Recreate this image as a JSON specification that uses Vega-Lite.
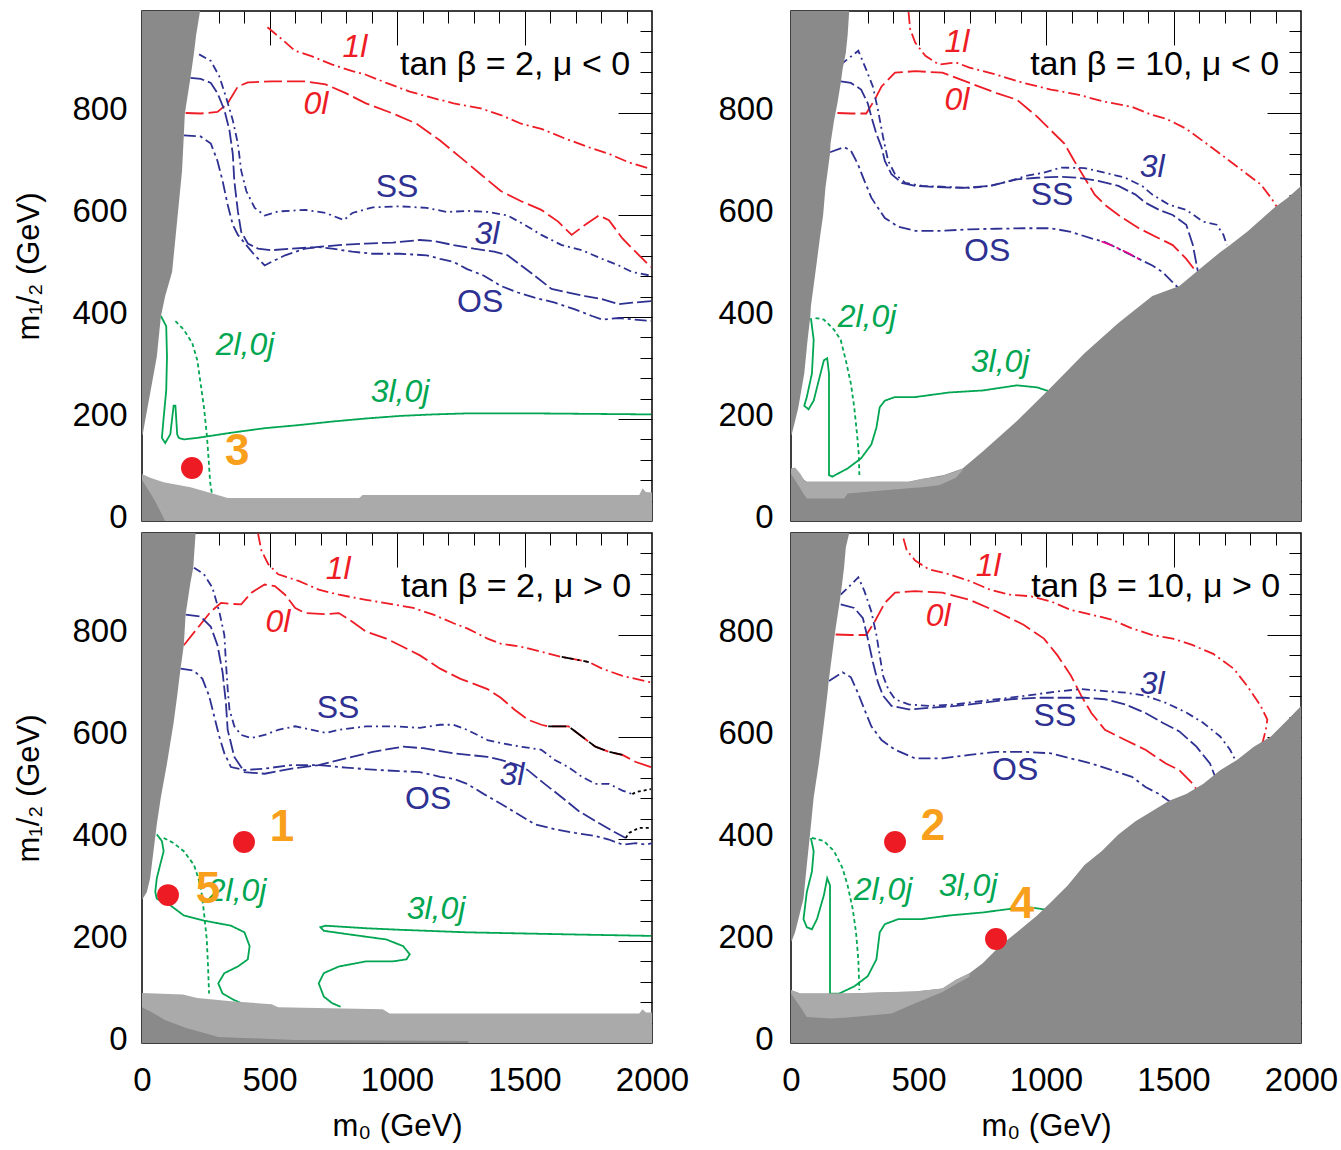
{
"$schema":"https://vega.github.io/schema/vega-lite/v6.json",
"background":"white",
"padding":{"left":13,"top":9,"right":5,"bottom":5},
"config":{"view":{"stroke":"#000","strokeWidth":1.5},"axis":{"labelFont":"Liberation Sans","labelFontSize":33,"labelColor":"#000","titleFont":"Liberation Sans","titleFontSize":31,"titleFontWeight":"normal","titleColor":"#000","grid":false,"domain":false,"labelFlush":false,"tickColor":"#000","tickWidth":1}},
"datasets":{
"lines":[
{"p":"TL","id":"TL1","s":"r1","o":1,"x":492,"y":968},{"p":"TL","id":"TL1","s":"r1","o":2,"x":548,"y":945},{"p":"TL","id":"TL1","s":"r1","o":3,"x":600,"y":922},{"p":"TL","id":"TL1","s":"r1","o":4,"x":667,"y":911},{"p":"TL","id":"TL1","s":"r1","o":5,"x":746,"y":895},{"p":"TL","id":"TL1","s":"r1","o":6,"x":825,"y":882},{"p":"TL","id":"TL1","s":"r1","o":7,"x":878,"y":875},{"p":"TL","id":"TL1","s":"r1","o":8,"x":958,"y":859},{"p":"TL","id":"TL1","s":"r1","o":9,"x":1050,"y":842},{"p":"TL","id":"TL1","s":"r1","o":10,"x":1143,"y":829},{"p":"TL","id":"TL1","s":"r1","o":11,"x":1222,"y":819},{"p":"TL","id":"TL1","s":"r1","o":12,"x":1328,"y":809},{"p":"TL","id":"TL1","s":"r1","o":13,"x":1407,"y":796},{"p":"TL","id":"TL1","s":"r1","o":14,"x":1487,"y":779},{"p":"TL","id":"TL1","s":"r1","o":15,"x":1566,"y":769},{"p":"TL","id":"TL1","s":"r1","o":16,"x":1659,"y":750},{"p":"TL","id":"TL1","s":"r1","o":17,"x":1751,"y":733},{"p":"TL","id":"TL1","s":"r1","o":18,"x":1831,"y":720},{"p":"TL","id":"TL1","s":"r1","o":19,"x":1910,"y":703},{"p":"TL","id":"TL1","s":"r1","o":20,"x":1996,"y":690},
{"p":"TL","id":"TL2","s":"r0","o":1,"x":171,"y":800},{"p":"TL","id":"TL2","s":"r0","o":2,"x":230,"y":799},{"p":"TL","id":"TL2","s":"r0","o":3,"x":296,"y":802},{"p":"TL","id":"TL2","s":"r0","o":4,"x":336,"y":819},{"p":"TL","id":"TL2","s":"r0","o":5,"x":376,"y":852},{"p":"TL","id":"TL2","s":"r0","o":6,"x":415,"y":860},{"p":"TL","id":"TL2","s":"r0","o":7,"x":508,"y":862},{"p":"TL","id":"TL2","s":"r0","o":8,"x":640,"y":862},{"p":"TL","id":"TL2","s":"r0","o":9,"x":720,"y":856},{"p":"TL","id":"TL2","s":"r0","o":10,"x":799,"y":839},{"p":"TL","id":"TL2","s":"r0","o":11,"x":878,"y":819},{"p":"TL","id":"TL2","s":"r0","o":12,"x":984,"y":799},{"p":"TL","id":"TL2","s":"r0","o":13,"x":1077,"y":779},{"p":"TL","id":"TL2","s":"r0","o":14,"x":1169,"y":746},{"p":"TL","id":"TL2","s":"r0","o":15,"x":1249,"y":713},{"p":"TL","id":"TL2","s":"r0","o":16,"x":1328,"y":680},{"p":"TL","id":"TL2","s":"r0","o":17,"x":1407,"y":647},{"p":"TL","id":"TL2","s":"r0","o":18,"x":1487,"y":627},{"p":"TL","id":"TL2","s":"r0","o":19,"x":1566,"y":610},{"p":"TL","id":"TL2","s":"r0","o":20,"x":1632,"y":587},{"p":"TL","id":"TL2","s":"r0","o":21,"x":1685,"y":561},{"p":"TL","id":"TL2","s":"r0","o":22,"x":1738,"y":581},{"p":"TL","id":"TL2","s":"r0","o":23,"x":1791,"y":599},{"p":"TL","id":"TL2","s":"r0","o":24,"x":1831,"y":590},{"p":"TL","id":"TL2","s":"r0","o":25,"x":1884,"y":554},{"p":"TL","id":"TL2","s":"r0","o":26,"x":1937,"y":527},{"p":"TL","id":"TL2","s":"r0","o":27,"x":1996,"y":498},
{"p":"TL","id":"TL3","s":"bA","o":1,"x":224,"y":915},{"p":"TL","id":"TL3","s":"bA","o":2,"x":270,"y":902},{"p":"TL","id":"TL3","s":"bA","o":3,"x":303,"y":872},{"p":"TL","id":"TL3","s":"bA","o":4,"x":329,"y":832},{"p":"TL","id":"TL3","s":"bA","o":5,"x":356,"y":786},{"p":"TL","id":"TL3","s":"bA","o":6,"x":376,"y":740},{"p":"TL","id":"TL3","s":"bA","o":7,"x":389,"y":687},{"p":"TL","id":"TL3","s":"bA","o":8,"x":409,"y":647},{"p":"TL","id":"TL3","s":"bA","o":9,"x":442,"y":614},{"p":"TL","id":"TL3","s":"bA","o":10,"x":481,"y":599},{"p":"TL","id":"TL3","s":"bA","o":11,"x":534,"y":607},{"p":"TL","id":"TL3","s":"bA","o":12,"x":640,"y":610},{"p":"TL","id":"TL3","s":"bA","o":13,"x":720,"y":604},{"p":"TL","id":"TL3","s":"bA","o":14,"x":792,"y":590},{"p":"TL","id":"TL3","s":"bA","o":15,"x":825,"y":604},{"p":"TL","id":"TL3","s":"bA","o":16,"x":905,"y":615},{"p":"TL","id":"TL3","s":"bA","o":17,"x":1011,"y":617},{"p":"TL","id":"TL3","s":"bA","o":18,"x":1116,"y":614},{"p":"TL","id":"TL3","s":"bA","o":19,"x":1196,"y":606},{"p":"TL","id":"TL3","s":"bA","o":20,"x":1275,"y":608},{"p":"TL","id":"TL3","s":"bA","o":21,"x":1355,"y":606},{"p":"TL","id":"TL3","s":"bA","o":22,"x":1434,"y":599},{"p":"TL","id":"TL3","s":"bA","o":23,"x":1500,"y":581},{"p":"TL","id":"TL3","s":"bA","o":24,"x":1566,"y":561},{"p":"TL","id":"TL3","s":"bA","o":25,"x":1646,"y":541},{"p":"TL","id":"TL3","s":"bA","o":26,"x":1725,"y":531},{"p":"TL","id":"TL3","s":"bA","o":27,"x":1804,"y":514},{"p":"TL","id":"TL3","s":"bA","o":28,"x":1870,"y":501},{"p":"TL","id":"TL3","s":"bA","o":29,"x":1923,"y":488},{"p":"TL","id":"TL3","s":"bA","o":30,"x":1996,"y":481},
{"p":"TL","id":"TL4","s":"bB","o":1,"x":190,"y":869},{"p":"TL","id":"TL4","s":"bB","o":2,"x":230,"y":867},{"p":"TL","id":"TL4","s":"bB","o":3,"x":270,"y":859},{"p":"TL","id":"TL4","s":"bB","o":4,"x":296,"y":839},{"p":"TL","id":"TL4","s":"bB","o":5,"x":323,"y":806},{"p":"TL","id":"TL4","s":"bB","o":6,"x":343,"y":766},{"p":"TL","id":"TL4","s":"bB","o":7,"x":356,"y":720},{"p":"TL","id":"TL4","s":"bB","o":8,"x":362,"y":667},{"p":"TL","id":"TL4","s":"bB","o":9,"x":376,"y":607},{"p":"TL","id":"TL4","s":"bB","o":10,"x":389,"y":567},{"p":"TL","id":"TL4","s":"bB","o":11,"x":415,"y":544},{"p":"TL","id":"TL4","s":"bB","o":12,"x":455,"y":534},{"p":"TL","id":"TL4","s":"bB","o":13,"x":508,"y":531},{"p":"TL","id":"TL4","s":"bB","o":14,"x":587,"y":534},{"p":"TL","id":"TL4","s":"bB","o":15,"x":680,"y":537},{"p":"TL","id":"TL4","s":"bB","o":16,"x":772,"y":541},{"p":"TL","id":"TL4","s":"bB","o":17,"x":878,"y":544},{"p":"TL","id":"TL4","s":"bB","o":18,"x":984,"y":546},{"p":"TL","id":"TL4","s":"bB","o":19,"x":1090,"y":551},{"p":"TL","id":"TL4","s":"bB","o":20,"x":1143,"y":549},{"p":"TL","id":"TL4","s":"bB","o":21,"x":1222,"y":541},{"p":"TL","id":"TL4","s":"bB","o":22,"x":1302,"y":534},{"p":"TL","id":"TL4","s":"bB","o":23,"x":1381,"y":528},{"p":"TL","id":"TL4","s":"bB","o":24,"x":1434,"y":521},{"p":"TL","id":"TL4","s":"bB","o":25,"x":1487,"y":501},{"p":"TL","id":"TL4","s":"bB","o":26,"x":1540,"y":481},{"p":"TL","id":"TL4","s":"bB","o":27,"x":1606,"y":455},{"p":"TL","id":"TL4","s":"bB","o":28,"x":1672,"y":448},{"p":"TL","id":"TL4","s":"bB","o":29,"x":1738,"y":441},{"p":"TL","id":"TL4","s":"bB","o":30,"x":1804,"y":435},{"p":"TL","id":"TL4","s":"bB","o":31,"x":1870,"y":425},{"p":"TL","id":"TL4","s":"bB","o":32,"x":1923,"y":428},{"p":"TL","id":"TL4","s":"bB","o":33,"x":1996,"y":431},
{"p":"TL","id":"TL5","s":"bC","o":1,"x":164,"y":756},{"p":"TL","id":"TL5","s":"bC","o":2,"x":230,"y":754},{"p":"TL","id":"TL5","s":"bC","o":3,"x":270,"y":740},{"p":"TL","id":"TL5","s":"bC","o":4,"x":296,"y":706},{"p":"TL","id":"TL5","s":"bC","o":5,"x":316,"y":667},{"p":"TL","id":"TL5","s":"bC","o":6,"x":336,"y":620},{"p":"TL","id":"TL5","s":"bC","o":7,"x":356,"y":581},{"p":"TL","id":"TL5","s":"bC","o":8,"x":376,"y":561},{"p":"TL","id":"TL5","s":"bC","o":9,"x":409,"y":541},{"p":"TL","id":"TL5","s":"bC","o":10,"x":442,"y":521},{"p":"TL","id":"TL5","s":"bC","o":11,"x":481,"y":501},{"p":"TL","id":"TL5","s":"bC","o":12,"x":508,"y":508},{"p":"TL","id":"TL5","s":"bC","o":13,"x":561,"y":521},{"p":"TL","id":"TL5","s":"bC","o":14,"x":640,"y":534},{"p":"TL","id":"TL5","s":"bC","o":15,"x":693,"y":537},{"p":"TL","id":"TL5","s":"bC","o":16,"x":746,"y":534},{"p":"TL","id":"TL5","s":"bC","o":17,"x":825,"y":528},{"p":"TL","id":"TL5","s":"bC","o":18,"x":905,"y":524},{"p":"TL","id":"TL5","s":"bC","o":19,"x":1011,"y":524},{"p":"TL","id":"TL5","s":"bC","o":20,"x":1116,"y":521},{"p":"TL","id":"TL5","s":"bC","o":21,"x":1169,"y":514},{"p":"TL","id":"TL5","s":"bC","o":22,"x":1222,"y":508},{"p":"TL","id":"TL5","s":"bC","o":23,"x":1275,"y":494},{"p":"TL","id":"TL5","s":"bC","o":24,"x":1341,"y":481},{"p":"TL","id":"TL5","s":"bC","o":25,"x":1407,"y":461},{"p":"TL","id":"TL5","s":"bC","o":26,"x":1474,"y":448},{"p":"TL","id":"TL5","s":"bC","o":27,"x":1540,"y":438},{"p":"TL","id":"TL5","s":"bC","o":28,"x":1619,"y":428},{"p":"TL","id":"TL5","s":"bC","o":29,"x":1698,"y":415},{"p":"TL","id":"TL5","s":"bC","o":30,"x":1765,"y":402},{"p":"TL","id":"TL5","s":"bC","o":31,"x":1804,"y":395},{"p":"TL","id":"TL5","s":"bC","o":32,"x":1870,"y":398},{"p":"TL","id":"TL5","s":"bC","o":33,"x":1996,"y":392},
{"p":"TL","id":"TL6","s":"gs","o":1,"x":74,"y":402},{"p":"TL","id":"TL6","s":"gs","o":2,"x":95,"y":382},{"p":"TL","id":"TL6","s":"gs","o":3,"x":98,"y":322},{"p":"TL","id":"TL6","s":"gs","o":4,"x":95,"y":256},{"p":"TL","id":"TL6","s":"gs","o":5,"x":85,"y":203},{"p":"TL","id":"TL6","s":"gs","o":6,"x":78,"y":163},{"p":"TL","id":"TL6","s":"gs","o":7,"x":91,"y":153},{"p":"TL","id":"TL6","s":"gs","o":8,"x":111,"y":170},{"p":"TL","id":"TL6","s":"gs","o":9,"x":124,"y":226},{"p":"TL","id":"TL6","s":"gs","o":10,"x":131,"y":226},{"p":"TL","id":"TL6","s":"gs","o":11,"x":138,"y":170},{"p":"TL","id":"TL6","s":"gs","o":12,"x":144,"y":163},{"p":"TL","id":"TL6","s":"gs","o":13,"x":164,"y":160},{"p":"TL","id":"TL6","s":"gs","o":14,"x":217,"y":163},{"p":"TL","id":"TL6","s":"gs","o":15,"x":349,"y":173},{"p":"TL","id":"TL6","s":"gs","o":16,"x":481,"y":182},{"p":"TL","id":"TL6","s":"gs","o":17,"x":614,"y":188},{"p":"TL","id":"TL6","s":"gs","o":18,"x":746,"y":195},{"p":"TL","id":"TL6","s":"gs","o":19,"x":878,"y":201},{"p":"TL","id":"TL6","s":"gs","o":20,"x":1011,"y":206},{"p":"TL","id":"TL6","s":"gs","o":21,"x":1143,"y":209},{"p":"TL","id":"TL6","s":"gs","o":22,"x":1275,"y":211},{"p":"TL","id":"TL6","s":"gs","o":23,"x":1540,"y":211},{"p":"TL","id":"TL6","s":"gs","o":24,"x":1996,"y":209},
{"p":"TL","id":"TL7","s":"gd","o":1,"x":131,"y":392},{"p":"TL","id":"TL7","s":"gd","o":2,"x":164,"y":375},{"p":"TL","id":"TL7","s":"gd","o":3,"x":197,"y":349},{"p":"TL","id":"TL7","s":"gd","o":4,"x":217,"y":315},{"p":"TL","id":"TL7","s":"gd","o":5,"x":230,"y":269},{"p":"TL","id":"TL7","s":"gd","o":6,"x":243,"y":223},{"p":"TL","id":"TL7","s":"gd","o":7,"x":254,"y":170},{"p":"TL","id":"TL7","s":"gd","o":8,"x":261,"y":123},{"p":"TL","id":"TL7","s":"gd","o":9,"x":267,"y":77},{"p":"TL","id":"TL7","s":"gd","o":10,"x":274,"y":54},
{"p":"TR","id":"TR1","s":"r1","o":1,"x":461,"y":998},{"p":"TR","id":"TR1","s":"r1","o":2,"x":467,"y":965},{"p":"TR","id":"TR1","s":"r1","o":3,"x":487,"y":938},{"p":"TR","id":"TR1","s":"r1","o":4,"x":527,"y":912},{"p":"TR","id":"TR1","s":"r1","o":5,"x":580,"y":895},{"p":"TR","id":"TR1","s":"r1","o":6,"x":647,"y":899},{"p":"TR","id":"TR1","s":"r1","o":7,"x":700,"y":889},{"p":"TR","id":"TR1","s":"r1","o":8,"x":806,"y":875},{"p":"TR","id":"TR1","s":"r1","o":9,"x":912,"y":859},{"p":"TR","id":"TR1","s":"r1","o":10,"x":1019,"y":846},{"p":"TR","id":"TR1","s":"r1","o":11,"x":1125,"y":836},{"p":"TR","id":"TR1","s":"r1","o":12,"x":1231,"y":822},{"p":"TR","id":"TR1","s":"r1","o":13,"x":1337,"y":812},{"p":"TR","id":"TR1","s":"r1","o":14,"x":1417,"y":796},{"p":"TR","id":"TR1","s":"r1","o":15,"x":1470,"y":789},{"p":"TR","id":"TR1","s":"r1","o":16,"x":1550,"y":769},{"p":"TR","id":"TR1","s":"r1","o":17,"x":1629,"y":740},{"p":"TR","id":"TR1","s":"r1","o":18,"x":1683,"y":720},{"p":"TR","id":"TR1","s":"r1","o":19,"x":1736,"y":700},{"p":"TR","id":"TR1","s":"r1","o":20,"x":1789,"y":680},{"p":"TR","id":"TR1","s":"r1","o":21,"x":1842,"y":660},{"p":"TR","id":"TR1","s":"r1","o":22,"x":1882,"y":634},{"p":"TR","id":"TR1","s":"r1","o":23,"x":1908,"y":614},
{"p":"TR","id":"TR2","s":"r0","o":1,"x":182,"y":800},{"p":"TR","id":"TR2","s":"r0","o":2,"x":235,"y":799},{"p":"TR","id":"TR2","s":"r0","o":3,"x":295,"y":799},{"p":"TR","id":"TR2","s":"r0","o":4,"x":328,"y":826},{"p":"TR","id":"TR2","s":"r0","o":5,"x":355,"y":852},{"p":"TR","id":"TR2","s":"r0","o":6,"x":408,"y":879},{"p":"TR","id":"TR2","s":"r0","o":7,"x":487,"y":882},{"p":"TR","id":"TR2","s":"r0","o":8,"x":594,"y":879},{"p":"TR","id":"TR2","s":"r0","o":9,"x":700,"y":859},{"p":"TR","id":"TR2","s":"r0","o":10,"x":806,"y":839},{"p":"TR","id":"TR2","s":"r0","o":11,"x":886,"y":826},{"p":"TR","id":"TR2","s":"r0","o":12,"x":965,"y":793},{"p":"TR","id":"TR2","s":"r0","o":13,"x":1019,"y":766},{"p":"TR","id":"TR2","s":"r0","o":14,"x":1072,"y":740},{"p":"TR","id":"TR2","s":"r0","o":15,"x":1111,"y":706},{"p":"TR","id":"TR2","s":"r0","o":16,"x":1151,"y":673},{"p":"TR","id":"TR2","s":"r0","o":17,"x":1191,"y":640},{"p":"TR","id":"TR2","s":"r0","o":18,"x":1231,"y":620},{"p":"TR","id":"TR2","s":"r0","o":19,"x":1284,"y":600},{"p":"TR","id":"TR2","s":"r0","o":20,"x":1364,"y":574},{"p":"TR","id":"TR2","s":"r0","o":21,"x":1444,"y":554},{"p":"TR","id":"TR2","s":"r0","o":22,"x":1497,"y":541},{"p":"TR","id":"TR2","s":"r0","o":23,"x":1550,"y":514},{"p":"TR","id":"TR2","s":"r0","o":24,"x":1590,"y":488},
{"p":"TR","id":"TR3","s":"bA","o":1,"x":195,"y":895},{"p":"TR","id":"TR3","s":"bA","o":2,"x":264,"y":922},{"p":"TR","id":"TR3","s":"bA","o":3,"x":295,"y":885},{"p":"TR","id":"TR3","s":"bA","o":4,"x":321,"y":852},{"p":"TR","id":"TR3","s":"bA","o":5,"x":341,"y":806},{"p":"TR","id":"TR3","s":"bA","o":6,"x":361,"y":753},{"p":"TR","id":"TR3","s":"bA","o":7,"x":381,"y":706},{"p":"TR","id":"TR3","s":"bA","o":8,"x":408,"y":680},{"p":"TR","id":"TR3","s":"bA","o":9,"x":448,"y":663},{"p":"TR","id":"TR3","s":"bA","o":10,"x":514,"y":657},{"p":"TR","id":"TR3","s":"bA","o":11,"x":620,"y":655},{"p":"TR","id":"TR3","s":"bA","o":12,"x":700,"y":653},{"p":"TR","id":"TR3","s":"bA","o":13,"x":780,"y":657},{"p":"TR","id":"TR3","s":"bA","o":14,"x":859,"y":667},{"p":"TR","id":"TR3","s":"bA","o":15,"x":926,"y":677},{"p":"TR","id":"TR3","s":"bA","o":16,"x":992,"y":683},{"p":"TR","id":"TR3","s":"bA","o":17,"x":1058,"y":693},{"p":"TR","id":"TR3","s":"bA","o":18,"x":1151,"y":692},{"p":"TR","id":"TR3","s":"bA","o":19,"x":1231,"y":683},{"p":"TR","id":"TR3","s":"bA","o":20,"x":1311,"y":673},{"p":"TR","id":"TR3","s":"bA","o":21,"x":1377,"y":657},{"p":"TR","id":"TR3","s":"bA","o":22,"x":1417,"y":640},{"p":"TR","id":"TR3","s":"bA","o":23,"x":1483,"y":620},{"p":"TR","id":"TR3","s":"bA","o":24,"x":1550,"y":610},{"p":"TR","id":"TR3","s":"bA","o":25,"x":1616,"y":587},{"p":"TR","id":"TR3","s":"bA","o":26,"x":1669,"y":581},{"p":"TR","id":"TR3","s":"bA","o":27,"x":1696,"y":561},{"p":"TR","id":"TR3","s":"bA","o":28,"x":1709,"y":541},
{"p":"TR","id":"TR4","s":"bB","o":1,"x":195,"y":862},{"p":"TR","id":"TR4","s":"bB","o":2,"x":235,"y":859},{"p":"TR","id":"TR4","s":"bB","o":3,"x":275,"y":846},{"p":"TR","id":"TR4","s":"bB","o":4,"x":301,"y":819},{"p":"TR","id":"TR4","s":"bB","o":5,"x":315,"y":793},{"p":"TR","id":"TR4","s":"bB","o":6,"x":335,"y":759},{"p":"TR","id":"TR4","s":"bB","o":7,"x":355,"y":733},{"p":"TR","id":"TR4","s":"bB","o":8,"x":368,"y":706},{"p":"TR","id":"TR4","s":"bB","o":9,"x":394,"y":680},{"p":"TR","id":"TR4","s":"bB","o":10,"x":434,"y":663},{"p":"TR","id":"TR4","s":"bB","o":11,"x":487,"y":657},{"p":"TR","id":"TR4","s":"bB","o":12,"x":567,"y":655},{"p":"TR","id":"TR4","s":"bB","o":13,"x":673,"y":653},{"p":"TR","id":"TR4","s":"bB","o":14,"x":780,"y":657},{"p":"TR","id":"TR4","s":"bB","o":15,"x":886,"y":670},{"p":"TR","id":"TR4","s":"bB","o":16,"x":965,"y":673},{"p":"TR","id":"TR4","s":"bB","o":17,"x":1058,"y":675},{"p":"TR","id":"TR4","s":"bB","o":18,"x":1125,"y":673},{"p":"TR","id":"TR4","s":"bB","o":19,"x":1204,"y":667},{"p":"TR","id":"TR4","s":"bB","o":20,"x":1284,"y":657},{"p":"TR","id":"TR4","s":"bB","o":21,"x":1351,"y":640},{"p":"TR","id":"TR4","s":"bB","o":22,"x":1390,"y":624},{"p":"TR","id":"TR4","s":"bB","o":23,"x":1444,"y":610},{"p":"TR","id":"TR4","s":"bB","o":24,"x":1497,"y":600},{"p":"TR","id":"TR4","s":"bB","o":25,"x":1550,"y":581},{"p":"TR","id":"TR4","s":"bB","o":26,"x":1576,"y":541},{"p":"TR","id":"TR4","s":"bB","o":27,"x":1596,"y":488},
{"p":"TR","id":"TR5","s":"bC","o":1,"x":153,"y":723},{"p":"TR","id":"TR5","s":"bC","o":2,"x":208,"y":733},{"p":"TR","id":"TR5","s":"bC","o":3,"x":235,"y":726},{"p":"TR","id":"TR5","s":"bC","o":4,"x":262,"y":700},{"p":"TR","id":"TR5","s":"bC","o":5,"x":288,"y":667},{"p":"TR","id":"TR5","s":"bC","o":6,"x":315,"y":634},{"p":"TR","id":"TR5","s":"bC","o":7,"x":341,"y":614},{"p":"TR","id":"TR5","s":"bC","o":8,"x":368,"y":594},{"p":"TR","id":"TR5","s":"bC","o":9,"x":421,"y":577},{"p":"TR","id":"TR5","s":"bC","o":10,"x":487,"y":569},{"p":"TR","id":"TR5","s":"bC","o":11,"x":594,"y":569},{"p":"TR","id":"TR5","s":"bC","o":12,"x":700,"y":572},{"p":"TR","id":"TR5","s":"bC","o":13,"x":806,"y":573},{"p":"TR","id":"TR5","s":"bC","o":14,"x":912,"y":574},{"p":"TR","id":"TR5","s":"bC","o":15,"x":1019,"y":574},{"p":"TR","id":"TR5","s":"bC","o":16,"x":1098,"y":567},{"p":"TR","id":"TR5","s":"bC","o":17,"x":1178,"y":554},{"p":"TR","id":"TR5","s":"bC","o":18,"x":1231,"y":547},{"p":"TR","id":"TR5","s":"bC","o":19,"x":1364,"y":514},{"p":"TR","id":"TR5","s":"bC","o":20,"x":1417,"y":501},{"p":"TR","id":"TR5","s":"bC","o":21,"x":1457,"y":488},{"p":"TR","id":"TR5","s":"bC","o":22,"x":1497,"y":468},{"p":"TR","id":"TR5","s":"bC","o":23,"x":1523,"y":455},
{"p":"TR","id":"TR6","s":"m","o":1,"x":1218,"y":548},{"p":"TR","id":"TR6","s":"m","o":2,"x":1260,"y":540},{"p":"TR","id":"TR6","s":"m","o":3,"x":1320,"y":526},{"p":"TR","id":"TR6","s":"m","o":4,"x":1364,"y":514},{"p":"TR","id":"TR6","s":"m","o":5,"x":1377,"y":511},
{"p":"TR","id":"TR7","s":"gd","o":1,"x":96,"y":398},{"p":"TR","id":"TR7","s":"gd","o":2,"x":129,"y":395},{"p":"TR","id":"TR7","s":"gd","o":3,"x":169,"y":375},{"p":"TR","id":"TR7","s":"gd","o":4,"x":195,"y":355},{"p":"TR","id":"TR7","s":"gd","o":5,"x":215,"y":315},{"p":"TR","id":"TR7","s":"gd","o":6,"x":235,"y":269},{"p":"TR","id":"TR7","s":"gd","o":7,"x":248,"y":223},{"p":"TR","id":"TR7","s":"gd","o":8,"x":259,"y":170},{"p":"TR","id":"TR7","s":"gd","o":9,"x":266,"y":130},{"p":"TR","id":"TR7","s":"gd","o":10,"x":268,"y":90},
{"p":"TR","id":"TR8","s":"gs","o":1,"x":78,"y":398},{"p":"TR","id":"TR8","s":"gs","o":2,"x":89,"y":355},{"p":"TR","id":"TR8","s":"gs","o":3,"x":82,"y":289},{"p":"TR","id":"TR8","s":"gs","o":4,"x":62,"y":243},{"p":"TR","id":"TR8","s":"gs","o":5,"x":52,"y":226},{"p":"TR","id":"TR8","s":"gs","o":6,"x":69,"y":219},{"p":"TR","id":"TR8","s":"gs","o":7,"x":89,"y":236},{"p":"TR","id":"TR8","s":"gs","o":8,"x":109,"y":276},{"p":"TR","id":"TR8","s":"gs","o":9,"x":129,"y":315},{"p":"TR","id":"TR8","s":"gs","o":10,"x":142,"y":319},{"p":"TR","id":"TR8","s":"gs","o":11,"x":149,"y":289},{"p":"TR","id":"TR8","s":"gs","o":12,"x":149,"y":90},{"p":"TR","id":"TR8","s":"gs","o":13,"x":162,"y":87},{"p":"TR","id":"TR8","s":"gs","o":14,"x":222,"y":103},{"p":"TR","id":"TR8","s":"gs","o":15,"x":275,"y":123},{"p":"TR","id":"TR8","s":"gs","o":16,"x":315,"y":150},{"p":"TR","id":"TR8","s":"gs","o":17,"x":335,"y":183},{"p":"TR","id":"TR8","s":"gs","o":18,"x":348,"y":223},{"p":"TR","id":"TR8","s":"gs","o":19,"x":368,"y":236},{"p":"TR","id":"TR8","s":"gs","o":20,"x":408,"y":243},{"p":"TR","id":"TR8","s":"gs","o":21,"x":487,"y":243},{"p":"TR","id":"TR8","s":"gs","o":22,"x":620,"y":252},{"p":"TR","id":"TR8","s":"gs","o":23,"x":753,"y":256},{"p":"TR","id":"TR8","s":"gs","o":24,"x":886,"y":266},{"p":"TR","id":"TR8","s":"gs","o":25,"x":965,"y":262},{"p":"TR","id":"TR8","s":"gs","o":26,"x":1045,"y":249},
{"p":"BL","id":"BL1","s":"r1","o":1,"x":455,"y":999},{"p":"BL","id":"BL1","s":"r1","o":2,"x":468,"y":966},{"p":"BL","id":"BL1","s":"r1","o":3,"x":495,"y":939},{"p":"BL","id":"BL1","s":"r1","o":4,"x":534,"y":919},{"p":"BL","id":"BL1","s":"r1","o":5,"x":614,"y":906},{"p":"BL","id":"BL1","s":"r1","o":6,"x":693,"y":889},{"p":"BL","id":"BL1","s":"r1","o":7,"x":772,"y":879},{"p":"BL","id":"BL1","s":"r1","o":8,"x":878,"y":869},{"p":"BL","id":"BL1","s":"r1","o":9,"x":984,"y":860},{"p":"BL","id":"BL1","s":"r1","o":10,"x":1064,"y":853},{"p":"BL","id":"BL1","s":"r1","o":11,"x":1143,"y":840},{"p":"BL","id":"BL1","s":"r1","o":12,"x":1222,"y":823},{"p":"BL","id":"BL1","s":"r1","o":13,"x":1275,"y":813},{"p":"BL","id":"BL1","s":"r1","o":14,"x":1355,"y":793},{"p":"BL","id":"BL1","s":"r1","o":15,"x":1407,"y":783},{"p":"BL","id":"BL1","s":"r1","o":16,"x":1487,"y":777},{"p":"BL","id":"BL1","s":"r1","o":17,"x":1566,"y":767},{"p":"BL","id":"BL1","s":"r1","o":18,"x":1646,"y":757},{"p":"BL","id":"BL1","s":"r1","o":19,"x":1752,"y":747},{"p":"BL","id":"BL1","s":"r1","o":20,"x":1804,"y":734},{"p":"BL","id":"BL1","s":"r1","o":21,"x":1884,"y":720},{"p":"BL","id":"BL1","s":"r1","o":22,"x":1996,"y":707},
{"p":"BL","id":"BL2","s":"r0","o":1,"x":164,"y":780},{"p":"BL","id":"BL2","s":"r0","o":2,"x":217,"y":813},{"p":"BL","id":"BL2","s":"r0","o":3,"x":270,"y":846},{"p":"BL","id":"BL2","s":"r0","o":4,"x":310,"y":863},{"p":"BL","id":"BL2","s":"r0","o":5,"x":349,"y":861},{"p":"BL","id":"BL2","s":"r0","o":6,"x":389,"y":860},{"p":"BL","id":"BL2","s":"r0","o":7,"x":429,"y":883},{"p":"BL","id":"BL2","s":"r0","o":8,"x":481,"y":899},{"p":"BL","id":"BL2","s":"r0","o":9,"x":521,"y":896},{"p":"BL","id":"BL2","s":"r0","o":10,"x":561,"y":879},{"p":"BL","id":"BL2","s":"r0","o":11,"x":601,"y":853},{"p":"BL","id":"BL2","s":"r0","o":12,"x":640,"y":843},{"p":"BL","id":"BL2","s":"r0","o":13,"x":720,"y":841},{"p":"BL","id":"BL2","s":"r0","o":14,"x":772,"y":843},{"p":"BL","id":"BL2","s":"r0","o":15,"x":825,"y":826},{"p":"BL","id":"BL2","s":"r0","o":16,"x":878,"y":807},{"p":"BL","id":"BL2","s":"r0","o":17,"x":958,"y":793},{"p":"BL","id":"BL2","s":"r0","o":18,"x":1011,"y":780},{"p":"BL","id":"BL2","s":"r0","o":19,"x":1090,"y":760},{"p":"BL","id":"BL2","s":"r0","o":20,"x":1169,"y":734},{"p":"BL","id":"BL2","s":"r0","o":21,"x":1249,"y":714},{"p":"BL","id":"BL2","s":"r0","o":22,"x":1355,"y":694},{"p":"BL","id":"BL2","s":"r0","o":23,"x":1407,"y":677},{"p":"BL","id":"BL2","s":"r0","o":24,"x":1460,"y":654},{"p":"BL","id":"BL2","s":"r0","o":25,"x":1513,"y":634},{"p":"BL","id":"BL2","s":"r0","o":26,"x":1566,"y":624},{"p":"BL","id":"BL2","s":"r0","o":27,"x":1593,"y":621},{"p":"BL","id":"BL2","s":"r0","o":28,"x":1672,"y":621},{"p":"BL","id":"BL2","s":"r0","o":29,"x":1725,"y":601},{"p":"BL","id":"BL2","s":"r0","o":30,"x":1778,"y":581},{"p":"BL","id":"BL2","s":"r0","o":31,"x":1831,"y":571},{"p":"BL","id":"BL2","s":"r0","o":32,"x":1884,"y":565},{"p":"BL","id":"BL2","s":"r0","o":33,"x":1937,"y":551},{"p":"BL","id":"BL2","s":"r0","o":34,"x":1996,"y":541},
{"p":"BL","id":"BL3","s":"bA","o":1,"x":204,"y":932},{"p":"BL","id":"BL3","s":"bA","o":2,"x":243,"y":919},{"p":"BL","id":"BL3","s":"bA","o":3,"x":276,"y":893},{"p":"BL","id":"BL3","s":"bA","o":4,"x":303,"y":846},{"p":"BL","id":"BL3","s":"bA","o":5,"x":323,"y":800},{"p":"BL","id":"BL3","s":"bA","o":6,"x":329,"y":747},{"p":"BL","id":"BL3","s":"bA","o":7,"x":336,"y":694},{"p":"BL","id":"BL3","s":"bA","o":8,"x":343,"y":654},{"p":"BL","id":"BL3","s":"bA","o":9,"x":362,"y":621},{"p":"BL","id":"BL3","s":"bA","o":10,"x":389,"y":604},{"p":"BL","id":"BL3","s":"bA","o":11,"x":429,"y":598},{"p":"BL","id":"BL3","s":"bA","o":12,"x":481,"y":604},{"p":"BL","id":"BL3","s":"bA","o":13,"x":534,"y":614},{"p":"BL","id":"BL3","s":"bA","o":14,"x":601,"y":621},{"p":"BL","id":"BL3","s":"bA","o":15,"x":667,"y":614},{"p":"BL","id":"BL3","s":"bA","o":16,"x":720,"y":608},{"p":"BL","id":"BL3","s":"bA","o":17,"x":772,"y":614},{"p":"BL","id":"BL3","s":"bA","o":18,"x":878,"y":621},{"p":"BL","id":"BL3","s":"bA","o":19,"x":984,"y":621},{"p":"BL","id":"BL3","s":"bA","o":20,"x":1090,"y":618},{"p":"BL","id":"BL3","s":"bA","o":21,"x":1169,"y":624},{"p":"BL","id":"BL3","s":"bA","o":22,"x":1222,"y":624},{"p":"BL","id":"BL3","s":"bA","o":23,"x":1275,"y":614},{"p":"BL","id":"BL3","s":"bA","o":24,"x":1355,"y":594},{"p":"BL","id":"BL3","s":"bA","o":25,"x":1407,"y":588},{"p":"BL","id":"BL3","s":"bA","o":26,"x":1487,"y":581},{"p":"BL","id":"BL3","s":"bA","o":27,"x":1566,"y":575},{"p":"BL","id":"BL3","s":"bA","o":28,"x":1619,"y":555},{"p":"BL","id":"BL3","s":"bA","o":29,"x":1672,"y":541},{"p":"BL","id":"BL3","s":"bA","o":30,"x":1725,"y":522},{"p":"BL","id":"BL3","s":"bA","o":31,"x":1778,"y":508},{"p":"BL","id":"BL3","s":"bA","o":32,"x":1831,"y":508},{"p":"BL","id":"BL3","s":"bA","o":33,"x":1884,"y":495},{"p":"BL","id":"BL3","s":"bA","o":34,"x":1923,"y":488},
{"p":"BL","id":"BL4","s":"bB","o":1,"x":171,"y":840},{"p":"BL","id":"BL4","s":"bB","o":2,"x":230,"y":836},{"p":"BL","id":"BL4","s":"bB","o":3,"x":270,"y":816},{"p":"BL","id":"BL4","s":"bB","o":4,"x":296,"y":780},{"p":"BL","id":"BL4","s":"bB","o":5,"x":316,"y":727},{"p":"BL","id":"BL4","s":"bB","o":6,"x":329,"y":667},{"p":"BL","id":"BL4","s":"bB","o":7,"x":336,"y":614},{"p":"BL","id":"BL4","s":"bB","o":8,"x":362,"y":561},{"p":"BL","id":"BL4","s":"bB","o":9,"x":402,"y":531},{"p":"BL","id":"BL4","s":"bB","o":10,"x":481,"y":528},{"p":"BL","id":"BL4","s":"bB","o":11,"x":587,"y":538},{"p":"BL","id":"BL4","s":"bB","o":12,"x":693,"y":545},{"p":"BL","id":"BL4","s":"bB","o":13,"x":799,"y":558},{"p":"BL","id":"BL4","s":"bB","o":14,"x":905,"y":571},{"p":"BL","id":"BL4","s":"bB","o":15,"x":1024,"y":581},{"p":"BL","id":"BL4","s":"bB","o":16,"x":1103,"y":578},{"p":"BL","id":"BL4","s":"bB","o":17,"x":1222,"y":568},{"p":"BL","id":"BL4","s":"bB","o":18,"x":1355,"y":561},{"p":"BL","id":"BL4","s":"bB","o":19,"x":1407,"y":555},{"p":"BL","id":"BL4","s":"bB","o":20,"x":1474,"y":545},{"p":"BL","id":"BL4","s":"bB","o":21,"x":1513,"y":535},{"p":"BL","id":"BL4","s":"bB","o":22,"x":1579,"y":508},{"p":"BL","id":"BL4","s":"bB","o":23,"x":1646,"y":482},{"p":"BL","id":"BL4","s":"bB","o":24,"x":1712,"y":455},{"p":"BL","id":"BL4","s":"bB","o":25,"x":1778,"y":435},{"p":"BL","id":"BL4","s":"bB","o":26,"x":1844,"y":416},{"p":"BL","id":"BL4","s":"bB","o":27,"x":1897,"y":402},
{"p":"BL","id":"BL5","s":"bC","o":1,"x":151,"y":734},{"p":"BL","id":"BL5","s":"bC","o":2,"x":204,"y":730},{"p":"BL","id":"BL5","s":"bC","o":3,"x":237,"y":714},{"p":"BL","id":"BL5","s":"bC","o":4,"x":263,"y":681},{"p":"BL","id":"BL5","s":"bC","o":5,"x":283,"y":641},{"p":"BL","id":"BL5","s":"bC","o":6,"x":303,"y":601},{"p":"BL","id":"BL5","s":"bC","o":7,"x":323,"y":568},{"p":"BL","id":"BL5","s":"bC","o":8,"x":349,"y":541},{"p":"BL","id":"BL5","s":"bC","o":9,"x":402,"y":535},{"p":"BL","id":"BL5","s":"bC","o":10,"x":481,"y":538},{"p":"BL","id":"BL5","s":"bC","o":11,"x":587,"y":545},{"p":"BL","id":"BL5","s":"bC","o":12,"x":693,"y":545},{"p":"BL","id":"BL5","s":"bC","o":13,"x":799,"y":540},{"p":"BL","id":"BL5","s":"bC","o":14,"x":905,"y":536},{"p":"BL","id":"BL5","s":"bC","o":15,"x":1011,"y":533},{"p":"BL","id":"BL5","s":"bC","o":16,"x":1090,"y":531},{"p":"BL","id":"BL5","s":"bC","o":17,"x":1169,"y":522},{"p":"BL","id":"BL5","s":"bC","o":18,"x":1222,"y":518},{"p":"BL","id":"BL5","s":"bC","o":19,"x":1275,"y":508},{"p":"BL","id":"BL5","s":"bC","o":20,"x":1341,"y":488},{"p":"BL","id":"BL5","s":"bC","o":21,"x":1407,"y":469},{"p":"BL","id":"BL5","s":"bC","o":22,"x":1474,"y":449},{"p":"BL","id":"BL5","s":"bC","o":23,"x":1540,"y":429},{"p":"BL","id":"BL5","s":"bC","o":24,"x":1619,"y":419},{"p":"BL","id":"BL5","s":"bC","o":25,"x":1698,"y":412},{"p":"BL","id":"BL5","s":"bC","o":26,"x":1778,"y":406},{"p":"BL","id":"BL5","s":"bC","o":27,"x":1831,"y":399},{"p":"BL","id":"BL5","s":"bC","o":28,"x":1884,"y":389},{"p":"BL","id":"BL5","s":"bC","o":29,"x":1937,"y":392},{"p":"BL","id":"BL5","s":"bC","o":30,"x":1976,"y":389},{"p":"BL","id":"BL5","s":"bC","o":31,"x":2000,"y":392},
{"p":"BL","id":"BL6","s":"gs","o":1,"x":58,"y":409},{"p":"BL","id":"BL6","s":"gs","o":2,"x":78,"y":396},{"p":"BL","id":"BL6","s":"gs","o":3,"x":85,"y":376},{"p":"BL","id":"BL6","s":"gs","o":4,"x":71,"y":349},{"p":"BL","id":"BL6","s":"gs","o":5,"x":58,"y":323},{"p":"BL","id":"BL6","s":"gs","o":6,"x":52,"y":296},{"p":"BL","id":"BL6","s":"gs","o":7,"x":58,"y":283},{"p":"BL","id":"BL6","s":"gs","o":8,"x":111,"y":270},{"p":"BL","id":"BL6","s":"gs","o":9,"x":164,"y":250},{"p":"BL","id":"BL6","s":"gs","o":10,"x":243,"y":240},{"p":"BL","id":"BL6","s":"gs","o":11,"x":349,"y":230},{"p":"BL","id":"BL6","s":"gs","o":12,"x":402,"y":217},{"p":"BL","id":"BL6","s":"gs","o":13,"x":422,"y":190},{"p":"BL","id":"BL6","s":"gs","o":14,"x":415,"y":164},{"p":"BL","id":"BL6","s":"gs","o":15,"x":376,"y":150},{"p":"BL","id":"BL6","s":"gs","o":16,"x":323,"y":137},{"p":"BL","id":"BL6","s":"gs","o":17,"x":299,"y":117},{"p":"BL","id":"BL6","s":"gs","o":18,"x":316,"y":97},{"p":"BL","id":"BL6","s":"gs","o":19,"x":362,"y":84},{"p":"BL","id":"BL6","s":"gs","o":20,"x":409,"y":74},
{"p":"BL","id":"BL7","s":"gd","o":1,"x":85,"y":402},{"p":"BL","id":"BL7","s":"gd","o":2,"x":124,"y":392},{"p":"BL","id":"BL7","s":"gd","o":3,"x":164,"y":376},{"p":"BL","id":"BL7","s":"gd","o":4,"x":204,"y":349},{"p":"BL","id":"BL7","s":"gd","o":5,"x":230,"y":309},{"p":"BL","id":"BL7","s":"gd","o":6,"x":243,"y":256},{"p":"BL","id":"BL7","s":"gd","o":7,"x":254,"y":203},{"p":"BL","id":"BL7","s":"gd","o":8,"x":259,"y":150},{"p":"BL","id":"BL7","s":"gd","o":9,"x":263,"y":97},
{"p":"BL","id":"BL8","s":"gs","o":1,"x":1996,"y":210},{"p":"BL","id":"BL8","s":"gs","o":2,"x":1672,"y":213},{"p":"BL","id":"BL8","s":"gs","o":3,"x":1275,"y":217},{"p":"BL","id":"BL8","s":"gs","o":4,"x":1011,"y":222},{"p":"BL","id":"BL8","s":"gs","o":5,"x":878,"y":225},{"p":"BL","id":"BL8","s":"gs","o":6,"x":720,"y":230},{"p":"BL","id":"BL8","s":"gs","o":7,"x":700,"y":227},{"p":"BL","id":"BL8","s":"gs","o":8,"x":713,"y":220},{"p":"BL","id":"BL8","s":"gs","o":9,"x":812,"y":213},{"p":"BL","id":"BL8","s":"gs","o":10,"x":958,"y":203},{"p":"BL","id":"BL8","s":"gs","o":11,"x":1024,"y":190},{"p":"BL","id":"BL8","s":"gs","o":12,"x":1050,"y":174},{"p":"BL","id":"BL8","s":"gs","o":13,"x":1037,"y":164},{"p":"BL","id":"BL8","s":"gs","o":14,"x":984,"y":160},{"p":"BL","id":"BL8","s":"gs","o":15,"x":878,"y":160},{"p":"BL","id":"BL8","s":"gs","o":16,"x":772,"y":150},{"p":"BL","id":"BL8","s":"gs","o":17,"x":713,"y":137},{"p":"BL","id":"BL8","s":"gs","o":18,"x":693,"y":117},{"p":"BL","id":"BL8","s":"gs","o":19,"x":713,"y":91},{"p":"BL","id":"BL8","s":"gs","o":20,"x":746,"y":78},{"p":"BL","id":"BL8","s":"gs","o":21,"x":779,"y":71},
{"p":"BL","id":"BLk1","s":"k1","o":1,"x":1646,"y":757},{"p":"BL","id":"BLk1","s":"k1","o":2,"x":1700,"y":752},{"p":"BL","id":"BLk1","s":"k1","o":3,"x":1752,"y":747},
{"p":"BL","id":"BLk2","s":"k0","o":1,"x":1593,"y":621},{"p":"BL","id":"BLk2","s":"k0","o":2,"x":1672,"y":621},{"p":"BL","id":"BLk2","s":"k0","o":3,"x":1725,"y":601},{"p":"BL","id":"BLk2","s":"k0","o":4,"x":1778,"y":581},{"p":"BL","id":"BLk2","s":"k0","o":5,"x":1831,"y":571},{"p":"BL","id":"BLk2","s":"k0","o":6,"x":1884,"y":565},
{"p":"BL","id":"BLk3","s":"kd","o":1,"x":1923,"y":488},{"p":"BL","id":"BLk3","s":"kd","o":2,"x":1937,"y":492},{"p":"BL","id":"BLk3","s":"kd","o":3,"x":1996,"y":498},
{"p":"BL","id":"BLk4","s":"kd","o":1,"x":1897,"y":402},{"p":"BL","id":"BLk4","s":"kd","o":2,"x":1910,"y":412},{"p":"BL","id":"BLk4","s":"kd","o":3,"x":1950,"y":422},{"p":"BL","id":"BLk4","s":"kd","o":4,"x":1996,"y":422},
{"p":"BR","id":"BR1","s":"r1","o":1,"x":441,"y":989},{"p":"BR","id":"BR1","s":"r1","o":2,"x":454,"y":966},{"p":"BR","id":"BR1","s":"r1","o":3,"x":487,"y":946},{"p":"BR","id":"BR1","s":"r1","o":4,"x":540,"y":929},{"p":"BR","id":"BR1","s":"r1","o":5,"x":620,"y":919},{"p":"BR","id":"BR1","s":"r1","o":6,"x":700,"y":906},{"p":"BR","id":"BR1","s":"r1","o":7,"x":780,"y":889},{"p":"BR","id":"BR1","s":"r1","o":8,"x":859,"y":879},{"p":"BR","id":"BR1","s":"r1","o":9,"x":939,"y":876},{"p":"BR","id":"BR1","s":"r1","o":10,"x":1019,"y":866},{"p":"BR","id":"BR1","s":"r1","o":11,"x":1098,"y":849},{"p":"BR","id":"BR1","s":"r1","o":12,"x":1178,"y":840},{"p":"BR","id":"BR1","s":"r1","o":13,"x":1258,"y":830},{"p":"BR","id":"BR1","s":"r1","o":14,"x":1337,"y":813},{"p":"BR","id":"BR1","s":"r1","o":15,"x":1417,"y":800},{"p":"BR","id":"BR1","s":"r1","o":16,"x":1497,"y":793},{"p":"BR","id":"BR1","s":"r1","o":17,"x":1576,"y":780},{"p":"BR","id":"BR1","s":"r1","o":18,"x":1656,"y":763},{"p":"BR","id":"BR1","s":"r1","o":19,"x":1736,"y":734},{"p":"BR","id":"BR1","s":"r1","o":20,"x":1789,"y":700},{"p":"BR","id":"BR1","s":"r1","o":21,"x":1842,"y":661},{"p":"BR","id":"BR1","s":"r1","o":22,"x":1868,"y":634},{"p":"BR","id":"BR1","s":"r1","o":23,"x":1862,"y":614},{"p":"BR","id":"BR1","s":"r1","o":24,"x":1842,"y":575},
{"p":"BR","id":"BR2","s":"r0","o":1,"x":175,"y":801},{"p":"BR","id":"BR2","s":"r0","o":2,"x":235,"y":800},{"p":"BR","id":"BR2","s":"r0","o":3,"x":295,"y":800},{"p":"BR","id":"BR2","s":"r0","o":4,"x":328,"y":826},{"p":"BR","id":"BR2","s":"r0","o":5,"x":368,"y":863},{"p":"BR","id":"BR2","s":"r0","o":6,"x":408,"y":883},{"p":"BR","id":"BR2","s":"r0","o":7,"x":487,"y":886},{"p":"BR","id":"BR2","s":"r0","o":8,"x":594,"y":883},{"p":"BR","id":"BR2","s":"r0","o":9,"x":700,"y":869},{"p":"BR","id":"BR2","s":"r0","o":10,"x":806,"y":846},{"p":"BR","id":"BR2","s":"r0","o":11,"x":912,"y":820},{"p":"BR","id":"BR2","s":"r0","o":12,"x":992,"y":793},{"p":"BR","id":"BR2","s":"r0","o":13,"x":1045,"y":760},{"p":"BR","id":"BR2","s":"r0","o":14,"x":1098,"y":720},{"p":"BR","id":"BR2","s":"r0","o":15,"x":1138,"y":681},{"p":"BR","id":"BR2","s":"r0","o":16,"x":1178,"y":647},{"p":"BR","id":"BR2","s":"r0","o":17,"x":1231,"y":614},{"p":"BR","id":"BR2","s":"r0","o":18,"x":1311,"y":594},{"p":"BR","id":"BR2","s":"r0","o":19,"x":1390,"y":575},{"p":"BR","id":"BR2","s":"r0","o":20,"x":1470,"y":548},{"p":"BR","id":"BR2","s":"r0","o":21,"x":1523,"y":535},{"p":"BR","id":"BR2","s":"r0","o":22,"x":1576,"y":508},{"p":"BR","id":"BR2","s":"r0","o":23,"x":1603,"y":488},
{"p":"BR","id":"BR3","s":"bA","o":1,"x":195,"y":879},{"p":"BR","id":"BR3","s":"bA","o":2,"x":264,"y":913},{"p":"BR","id":"BR3","s":"bA","o":3,"x":288,"y":886},{"p":"BR","id":"BR3","s":"bA","o":4,"x":315,"y":846},{"p":"BR","id":"BR3","s":"bA","o":5,"x":335,"y":800},{"p":"BR","id":"BR3","s":"bA","o":6,"x":348,"y":760},{"p":"BR","id":"BR3","s":"bA","o":7,"x":361,"y":720},{"p":"BR","id":"BR3","s":"bA","o":8,"x":381,"y":694},{"p":"BR","id":"BR3","s":"bA","o":9,"x":408,"y":674},{"p":"BR","id":"BR3","s":"bA","o":10,"x":461,"y":664},{"p":"BR","id":"BR3","s":"bA","o":11,"x":540,"y":661},{"p":"BR","id":"BR3","s":"bA","o":12,"x":647,"y":664},{"p":"BR","id":"BR3","s":"bA","o":13,"x":753,"y":671},{"p":"BR","id":"BR3","s":"bA","o":14,"x":859,"y":677},{"p":"BR","id":"BR3","s":"bA","o":15,"x":965,"y":684},{"p":"BR","id":"BR3","s":"bA","o":16,"x":1058,"y":690},{"p":"BR","id":"BR3","s":"bA","o":17,"x":1138,"y":694},{"p":"BR","id":"BR3","s":"bA","o":18,"x":1231,"y":690},{"p":"BR","id":"BR3","s":"bA","o":19,"x":1311,"y":687},{"p":"BR","id":"BR3","s":"bA","o":20,"x":1390,"y":681},{"p":"BR","id":"BR3","s":"bA","o":21,"x":1470,"y":667},{"p":"BR","id":"BR3","s":"bA","o":22,"x":1550,"y":648},{"p":"BR","id":"BR3","s":"bA","o":23,"x":1616,"y":628},{"p":"BR","id":"BR3","s":"bA","o":24,"x":1683,"y":601},{"p":"BR","id":"BR3","s":"bA","o":25,"x":1722,"y":575},{"p":"BR","id":"BR3","s":"bA","o":26,"x":1742,"y":555},
{"p":"BR","id":"BR4","s":"bB","o":1,"x":195,"y":860},{"p":"BR","id":"BR4","s":"bB","o":2,"x":248,"y":853},{"p":"BR","id":"BR4","s":"bB","o":3,"x":282,"y":833},{"p":"BR","id":"BR4","s":"bB","o":4,"x":301,"y":793},{"p":"BR","id":"BR4","s":"bB","o":5,"x":321,"y":747},{"p":"BR","id":"BR4","s":"bB","o":6,"x":341,"y":707},{"p":"BR","id":"BR4","s":"bB","o":7,"x":361,"y":681},{"p":"BR","id":"BR4","s":"bB","o":8,"x":394,"y":661},{"p":"BR","id":"BR4","s":"bB","o":9,"x":461,"y":654},{"p":"BR","id":"BR4","s":"bB","o":10,"x":540,"y":657},{"p":"BR","id":"BR4","s":"bB","o":11,"x":647,"y":661},{"p":"BR","id":"BR4","s":"bB","o":12,"x":753,"y":667},{"p":"BR","id":"BR4","s":"bB","o":13,"x":859,"y":674},{"p":"BR","id":"BR4","s":"bB","o":14,"x":965,"y":677},{"p":"BR","id":"BR4","s":"bB","o":15,"x":1072,"y":677},{"p":"BR","id":"BR4","s":"bB","o":16,"x":1151,"y":677},{"p":"BR","id":"BR4","s":"bB","o":17,"x":1231,"y":674},{"p":"BR","id":"BR4","s":"bB","o":18,"x":1311,"y":664},{"p":"BR","id":"BR4","s":"bB","o":19,"x":1390,"y":647},{"p":"BR","id":"BR4","s":"bB","o":20,"x":1457,"y":628},{"p":"BR","id":"BR4","s":"bB","o":21,"x":1523,"y":611},{"p":"BR","id":"BR4","s":"bB","o":22,"x":1590,"y":581},{"p":"BR","id":"BR4","s":"bB","o":23,"x":1643,"y":548},{"p":"BR","id":"BR4","s":"bB","o":24,"x":1669,"y":515},
{"p":"BR","id":"BR5","s":"bC","o":1,"x":149,"y":710},{"p":"BR","id":"BR5","s":"bC","o":2,"x":202,"y":727},{"p":"BR","id":"BR5","s":"bC","o":3,"x":235,"y":717},{"p":"BR","id":"BR5","s":"bC","o":4,"x":262,"y":687},{"p":"BR","id":"BR5","s":"bC","o":5,"x":288,"y":654},{"p":"BR","id":"BR5","s":"bC","o":6,"x":315,"y":621},{"p":"BR","id":"BR5","s":"bC","o":7,"x":355,"y":594},{"p":"BR","id":"BR5","s":"bC","o":8,"x":408,"y":575},{"p":"BR","id":"BR5","s":"bC","o":9,"x":487,"y":558},{"p":"BR","id":"BR5","s":"bC","o":10,"x":594,"y":558},{"p":"BR","id":"BR5","s":"bC","o":11,"x":700,"y":565},{"p":"BR","id":"BR5","s":"bC","o":12,"x":806,"y":571},{"p":"BR","id":"BR5","s":"bC","o":13,"x":912,"y":571},{"p":"BR","id":"BR5","s":"bC","o":14,"x":1019,"y":568},{"p":"BR","id":"BR5","s":"bC","o":15,"x":1098,"y":558},{"p":"BR","id":"BR5","s":"bC","o":16,"x":1178,"y":548},{"p":"BR","id":"BR5","s":"bC","o":17,"x":1258,"y":535},{"p":"BR","id":"BR5","s":"bC","o":18,"x":1337,"y":522},{"p":"BR","id":"BR5","s":"bC","o":19,"x":1390,"y":502},{"p":"BR","id":"BR5","s":"bC","o":20,"x":1444,"y":488},{"p":"BR","id":"BR5","s":"bC","o":21,"x":1497,"y":469},{"p":"BR","id":"BR5","s":"bC","o":22,"x":1523,"y":455},
{"p":"BR","id":"BR6","s":"gd","o":1,"x":82,"y":402},{"p":"BR","id":"BR6","s":"gd","o":2,"x":129,"y":396},{"p":"BR","id":"BR6","s":"gd","o":3,"x":169,"y":376},{"p":"BR","id":"BR6","s":"gd","o":4,"x":202,"y":343},{"p":"BR","id":"BR6","s":"gd","o":5,"x":222,"y":309},{"p":"BR","id":"BR6","s":"gd","o":6,"x":242,"y":263},{"p":"BR","id":"BR6","s":"gd","o":7,"x":255,"y":217},{"p":"BR","id":"BR6","s":"gd","o":8,"x":264,"y":164},{"p":"BR","id":"BR6","s":"gd","o":9,"x":268,"y":104},
{"p":"BR","id":"BR7","s":"gs","o":1,"x":78,"y":402},{"p":"BR","id":"BR7","s":"gs","o":2,"x":89,"y":376},{"p":"BR","id":"BR7","s":"gs","o":3,"x":82,"y":336},{"p":"BR","id":"BR7","s":"gs","o":4,"x":62,"y":296},{"p":"BR","id":"BR7","s":"gs","o":5,"x":49,"y":243},{"p":"BR","id":"BR7","s":"gs","o":6,"x":62,"y":227},{"p":"BR","id":"BR7","s":"gs","o":7,"x":82,"y":223},{"p":"BR","id":"BR7","s":"gs","o":8,"x":102,"y":243},{"p":"BR","id":"BR7","s":"gs","o":9,"x":129,"y":290},{"p":"BR","id":"BR7","s":"gs","o":10,"x":142,"y":323},{"p":"BR","id":"BR7","s":"gs","o":11,"x":153,"y":309},{"p":"BR","id":"BR7","s":"gs","o":12,"x":153,"y":97},{"p":"BR","id":"BR7","s":"gs","o":13,"x":189,"y":97},{"p":"BR","id":"BR7","s":"gs","o":14,"x":248,"y":111},{"p":"BR","id":"BR7","s":"gs","o":15,"x":301,"y":131},{"p":"BR","id":"BR7","s":"gs","o":16,"x":335,"y":164},{"p":"BR","id":"BR7","s":"gs","o":17,"x":348,"y":217},{"p":"BR","id":"BR7","s":"gs","o":18,"x":368,"y":233},{"p":"BR","id":"BR7","s":"gs","o":19,"x":421,"y":243},{"p":"BR","id":"BR7","s":"gs","o":20,"x":514,"y":243},{"p":"BR","id":"BR7","s":"gs","o":21,"x":620,"y":250},{"p":"BR","id":"BR7","s":"gs","o":22,"x":753,"y":256},{"p":"BR","id":"BR7","s":"gs","o":23,"x":859,"y":263},{"p":"BR","id":"BR7","s":"gs","o":24,"x":939,"y":266},{"p":"BR","id":"BR7","s":"gs","o":25,"x":1019,"y":260}
],
"brick":[
{"p":"TR","x":0,"y":103},{"p":"TR","x":20,"y":100},{"p":"TR","x":40,"y":85},{"p":"TR","x":62,"y":77},{"p":"TR","x":461,"y":77},{"p":"TR","x":520,"y":83},{"p":"TR","x":600,"y":90},{"p":"TR","x":673,"y":103},{"p":"TR","x":753,"y":137},{"p":"TR","x":886,"y":196},{"p":"TR","x":1019,"y":262},{"p":"TR","x":1151,"y":329},{"p":"TR","x":1284,"y":388},{"p":"TR","x":1417,"y":441},{"p":"TR","x":1523,"y":461},{"p":"TR","x":1603,"y":494},{"p":"TR","x":1683,"y":527},{"p":"TR","x":1722,"y":541},{"p":"TR","x":1789,"y":567},{"p":"TR","x":1895,"y":614},{"p":"TR","x":1948,"y":634},{"p":"TR","x":2000,"y":657},
{"p":"BR","x":0,"y":104},{"p":"BR","x":36,"y":97},{"p":"BR","x":222,"y":97},{"p":"BR","x":487,"y":101},{"p":"BR","x":594,"y":107},{"p":"BR","x":647,"y":124},{"p":"BR","x":700,"y":137},{"p":"BR","x":753,"y":157},{"p":"BR","x":819,"y":190},{"p":"BR","x":886,"y":217},{"p":"BR","x":965,"y":250},{"p":"BR","x":1019,"y":276},{"p":"BR","x":1085,"y":309},{"p":"BR","x":1151,"y":349},{"p":"BR","x":1218,"y":376},{"p":"BR","x":1284,"y":409},{"p":"BR","x":1351,"y":435},{"p":"BR","x":1417,"y":455},{"p":"BR","x":1483,"y":475},{"p":"BR","x":1550,"y":488},{"p":"BR","x":1616,"y":508},{"p":"BR","x":1683,"y":535},{"p":"BR","x":1749,"y":555},{"p":"BR","x":1815,"y":581},{"p":"BR","x":1882,"y":601},{"p":"BR","x":1948,"y":634},{"p":"BR","x":2000,"y":661}
],
"hatch":[
{"p":"TL","x":0,"y":92,"y2":0},{"p":"TL","x":32,"y":85,"y2":0},{"p":"TL","x":85,"y":76,"y2":0},{"p":"TL","x":190,"y":66,"y2":0},{"p":"TL","x":270,"y":55,"y2":0},{"p":"TL","x":336,"y":45,"y2":0},{"p":"TL","x":852,"y":45,"y2":0},{"p":"TL","x":865,"y":51,"y2":0},{"p":"TL","x":1950,"y":51,"y2":0},{"p":"TL","x":1963,"y":64,"y2":0},{"p":"TL","x":1976,"y":57,"y2":0},{"p":"TL","x":2000,"y":56,"y2":0},
{"p":"TR","x":0,"y":103,"y2":92},{"p":"TR","x":16,"y":105,"y2":80},{"p":"TR","x":36,"y":93,"y2":64},{"p":"TR","x":56,"y":77,"y2":48},{"p":"TR","x":62,"y":77,"y2":44},{"p":"TR","x":208,"y":77,"y2":44},{"p":"TR","x":222,"y":77,"y2":54},{"p":"TR","x":461,"y":77,"y2":64},{"p":"TR","x":514,"y":83,"y2":66},{"p":"TR","x":581,"y":87,"y2":70},{"p":"TR","x":647,"y":97,"y2":85},{"p":"TR","x":673,"y":103,"y2":100},
{"p":"BL","x":0,"y":98,"y2":0},{"p":"BL","x":160,"y":95,"y2":0},{"p":"BL","x":217,"y":88,"y2":0},{"p":"BL","x":349,"y":82,"y2":0},{"p":"BL","x":508,"y":76,"y2":0},{"p":"BL","x":534,"y":70,"y2":0},{"p":"BL","x":944,"y":66,"y2":0},{"p":"BL","x":971,"y":58,"y2":0},{"p":"BL","x":1950,"y":58,"y2":0},{"p":"BL","x":1963,"y":66,"y2":0},{"p":"BL","x":1976,"y":60,"y2":0},{"p":"BL","x":2000,"y":60,"y2":0},
{"p":"BR","x":0,"y":104,"y2":97},{"p":"BR","x":36,"y":97,"y2":71},{"p":"BR","x":62,"y":97,"y2":51},{"p":"BR","x":155,"y":97,"y2":48},{"p":"BR","x":222,"y":97,"y2":50},{"p":"BR","x":395,"y":100,"y2":58},{"p":"BR","x":487,"y":101,"y2":78},{"p":"BR","x":594,"y":107,"y2":100},{"p":"BR","x":647,"y":124,"y2":115},{"p":"BR","x":700,"y":137,"y2":130}
],
"strips":[
{"p":"TL","y":0,"x":91},{"p":"TL","y":40,"x":50},{"p":"TL","y":77,"x":5},{"p":"TL","y":80,"x":0},{"p":"TL","y":168,"x":0},{"p":"TL","y":170,"x":3},{"p":"TL","y":196,"x":12},{"p":"TL","y":256,"x":34},{"p":"TL","y":322,"x":58},{"p":"TL","y":401,"x":74},{"p":"TL","y":441,"x":91},{"p":"TL","y":488,"x":118},{"p":"TL","y":554,"x":131},{"p":"TL","y":620,"x":144},{"p":"TL","y":687,"x":157},{"p":"TL","y":756,"x":164},{"p":"TL","y":799,"x":168},{"p":"TL","y":869,"x":190},{"p":"TL","y":918,"x":204},{"p":"TL","y":952,"x":212},{"p":"TL","y":998,"x":227},{"p":"TL","y":1000,"x":228},
{"p":"TR","y":0,"x":0},{"p":"TR","y":168,"x":0},{"p":"TR","y":170,"x":3},{"p":"TR","y":196,"x":16},{"p":"TR","y":223,"x":29},{"p":"TR","y":289,"x":52},{"p":"TR","y":355,"x":65},{"p":"TR","y":402,"x":76},{"p":"TR","y":421,"x":78},{"p":"TR","y":488,"x":96},{"p":"TR","y":554,"x":113},{"p":"TR","y":600,"x":126},{"p":"TR","y":653,"x":135},{"p":"TR","y":720,"x":153},{"p":"TR","y":740,"x":155},{"p":"TR","y":786,"x":169},{"p":"TR","y":819,"x":182},{"p":"TR","y":859,"x":195},{"p":"TR","y":885,"x":202},{"p":"TR","y":918,"x":215},{"p":"TR","y":952,"x":222},{"p":"TR","y":998,"x":228},{"p":"TR","y":1000,"x":228},
{"p":"BL","y":0,"x":1280},{"p":"BL","y":4,"x":1280},{"p":"BL","y":6,"x":600},{"p":"BL","y":12,"x":300},{"p":"BL","y":30,"x":170},{"p":"BL","y":45,"x":90},{"p":"BL","y":60,"x":40},{"p":"BL","y":70,"x":0},{"p":"BL","y":282,"x":0},{"p":"BL","y":283,"x":3},{"p":"BL","y":296,"x":19},{"p":"BL","y":323,"x":32},{"p":"BL","y":376,"x":45},{"p":"BL","y":429,"x":58},{"p":"BL","y":482,"x":74},{"p":"BL","y":548,"x":98},{"p":"BL","y":588,"x":111},{"p":"BL","y":628,"x":124},{"p":"BL","y":681,"x":138},{"p":"BL","y":734,"x":151},{"p":"BL","y":780,"x":164},{"p":"BL","y":840,"x":171},{"p":"BL","y":903,"x":190},{"p":"BL","y":932,"x":201},{"p":"BL","y":999,"x":210},{"p":"BL","y":1000,"x":210},
{"p":"BR","y":0,"x":0},{"p":"BR","y":199,"x":0},{"p":"BR","y":200,"x":3},{"p":"BR","y":217,"x":16},{"p":"BR","y":283,"x":49},{"p":"BR","y":349,"x":62},{"p":"BR","y":416,"x":76},{"p":"BR","y":482,"x":89},{"p":"BR","y":548,"x":109},{"p":"BR","y":614,"x":126},{"p":"BR","y":681,"x":142},{"p":"BR","y":714,"x":149},{"p":"BR","y":780,"x":166},{"p":"BR","y":813,"x":175},{"p":"BR","y":879,"x":195},{"p":"BR","y":932,"x":208},{"p":"BR","y":972,"x":215},{"p":"BR","y":999,"x":228},{"p":"BR","y":1000,"x":228}
],
"labels":[
{"p":"TL","t":"1l","c":"red","f":"i","x":835,"y":930},{"p":"TL","t":"0l","c":"red","f":"i","x":682,"y":817},{"p":"TL","t":"tan β = 2, μ < 0","c":"black","f":"t","x":1463,"y":895},{"p":"TL","t":"SS","c":"blue","f":"u","x":1000,"y":654},{"p":"TL","t":"3l","c":"blue","f":"i","x":1353,"y":563},{"p":"TL","t":"OS","c":"blue","f":"u","x":1326,"y":430},{"p":"TL","t":"2l,0j","c":"green","f":"i","x":404,"y":345},{"p":"TL","t":"3l,0j","c":"green","f":"i","x":1012,"y":253},{"p":"TL","t":"3","c":"orange","f":"n","x":373,"y":135},
{"p":"TR","t":"1l","c":"red","f":"i","x":651,"y":940},{"p":"TR","t":"0l","c":"red","f":"i","x":651,"y":826},{"p":"TR","t":"tan β = 10, μ < 0","c":"black","f":"t","x":1426,"y":895},{"p":"TR","t":"3l","c":"blue","f":"i","x":1416,"y":695},{"p":"TR","t":"SS","c":"blue","f":"u","x":1024,"y":640},{"p":"TR","t":"OS","c":"blue","f":"u","x":769,"y":530},{"p":"TR","t":"2l,0j","c":"green","f":"i","x":298,"y":400},{"p":"TR","t":"3l,0j","c":"green","f":"i","x":820,"y":312},
{"p":"BL","t":"1l","c":"red","f":"i","x":769,"y":930},{"p":"BL","t":"0l","c":"red","f":"i","x":533,"y":826},{"p":"BL","t":"tan β = 2, μ > 0","c":"black","f":"t","x":1467,"y":894},{"p":"BL","t":"SS","c":"blue","f":"u","x":769,"y":657},{"p":"BL","t":"3l","c":"blue","f":"i","x":1451,"y":526},{"p":"BL","t":"OS","c":"blue","f":"u","x":1122,"y":478},{"p":"BL","t":"2l,0j","c":"green","f":"i","x":373,"y":298},{"p":"BL","t":"3l,0j","c":"green","f":"i","x":1153,"y":263},{"p":"BL","t":"1","c":"orange","f":"n","x":549,"y":422},{"p":"BL","t":"5","c":"orange","f":"n","x":259,"y":300},
{"p":"BR","t":"1l","c":"red","f":"i","x":773,"y":935},{"p":"BR","t":"0l","c":"red","f":"i","x":577,"y":837},{"p":"BR","t":"tan β = 10, μ > 0","c":"black","f":"t","x":1430,"y":894},{"p":"BR","t":"3l","c":"blue","f":"i","x":1416,"y":704},{"p":"BR","t":"SS","c":"blue","f":"u","x":1035,"y":641},{"p":"BR","t":"OS","c":"blue","f":"u","x":879,"y":535},{"p":"BR","t":"2l,0j","c":"green","f":"i","x":361,"y":300},{"p":"BR","t":"3l,0j","c":"green","f":"i","x":694,"y":308},{"p":"BR","t":"2","c":"orange","f":"n","x":557,"y":424},{"p":"BR","t":"4","c":"orange","f":"n","x":906,"y":271}
],
"dots":[
{"p":"TL","x":196,"y":104},{"p":"BL","x":400,"y":394},{"p":"BL","x":102,"y":290},{"p":"BR","x":408,"y":394},{"p":"BR","x":804,"y":204}
]
},
"concat":[
{"width":510,"height":510,"layer":[
 {"encoding":{"x":{"field":"x","type":"quantitative","scale":{"domain":[0,2000],"nice":false,"zero":false},"axis":null},"y":{"field":"y","type":"quantitative","scale":{"domain":[0,1000],"nice":false,"zero":false},"axis":{"orient":"left","values":[0,200,400,600,800],"ticks":false,"labelPadding":15,"labelOffset":-4,"title":"m₁/₂  (GeV)","titlePadding":26}}},
  "layer":[
  {"data":{"name":"lines"},"transform":[{"filter":"datum.p=='TL'"}],"mark":{"type":"line","strokeWidth":1.8,"clip":true},"encoding":{"detail":{"field":"id"},"order":{"field":"o","type":"quantitative"},"stroke":{"field":"s","type":"nominal","legend":null,"scale":{"domain":["r1","r0","bA","bB","bC","gs","gd","k1","k0","kd","m"],"range":["#ee1c25","#ee1c25","#2e3192","#2e3192","#2e3192","#00a651","#00a651","#000000","#000000","#000000","#ec008c"]}},"strokeDash":{"field":"s","type":"nominal","legend":null,"scale":{"domain":["r1","r0","bA","bB","bC","gs","gd","k1","k0","kd","m"],"range":[[12,4,2,4],[18,5],[8,4,2,4],[14,4],[12,4,3,4],[1,0],[4,3],[12,4,2,4],[18,5],[3,3],[12,4,3,4]]}}}},
  {"data":{"name":"brick"},"transform":[{"filter":"datum.p=='TL'"}],"mark":{"type":"area","color":"#8a8a8a","clip":true},"encoding":{"y2":{"datum":0}}},
  {"data":{"name":"hatch"},"transform":[{"filter":"datum.p=='TL'"}],"mark":{"type":"area","color":"#aaaaaa","clip":true},"encoding":{"y2":{"field":"y2"}}},
  {"data":{"name":"strips"},"transform":[{"filter":"datum.p=='TL'"}],"mark":{"type":"area","orient":"horizontal","color":"#8a8a8a","clip":true},"encoding":{"x2":{"datum":0}}},
  {"data":{"name":"dots"},"transform":[{"filter":"datum.p=='TL'"}],"mark":{"type":"circle","size":480,"color":"#ed1c24","opacity":1}},
  {"data":{"name":"labels"},"transform":[{"filter":"datum.p=='TL' && datum.f=='i'"}],"mark":{"type":"text","font":"Liberation Sans","fontSize":32,"fontStyle":"italic","baseline":"middle","align":"center"},"encoding":{"text":{"field":"t"},"fill":{"field":"c","type":"nominal","legend":null,"scale":{"domain":["red","blue","green","black"],"range":["#ee1c25","#2e3192","#00a651","#000000"]}}}},
  {"data":{"name":"labels"},"transform":[{"filter":"datum.p=='TL' && datum.f=='u'"}],"mark":{"type":"text","font":"Liberation Sans","fontSize":32,"baseline":"middle","align":"center"},"encoding":{"text":{"field":"t"},"fill":{"field":"c","type":"nominal","legend":null,"scale":{"domain":["red","blue","green","black"],"range":["#ee1c25","#2e3192","#00a651","#000000"]}}}},
  {"data":{"name":"labels"},"transform":[{"filter":"datum.p=='TL' && datum.f=='t'"}],"mark":{"type":"text","font":"Liberation Sans","fontSize":34,"baseline":"middle","align":"center","color":"#000"},"encoding":{"text":{"field":"t"}}},
  {"data":{"name":"labels"},"transform":[{"filter":"datum.p=='TL' && datum.f=='n'"}],"mark":{"type":"text","font":"Liberation Sans","fontSize":44,"fontWeight":"bold","baseline":"middle","align":"center","color":"#f8a01c"},"encoding":{"text":{"field":"t"}}}
 ]},
 {"data":{"name":"dots"},"mark":{"type":"point","opacity":0},"encoding":{"x":{"field":"x","type":"quantitative","scale":{"domain":[0,2000],"nice":false,"zero":false},"axis":{"orient":"top","values":[100,200,300,400,600,700,800,900,1100,1200,1300,1400,1600,1700,1800,1900],"tickSize":12,"offset":-12,"labels":false,"title":null}},"y":{"field":"y","type":"quantitative","scale":{"domain":[0,1000],"nice":false,"zero":false},"axis":{"orient":"right","values":[40,80,120,160,240,280,320,360,440,480,520,560,640,680,720,760,840,880,920,960],"tickSize":12,"offset":-12,"labels":false,"title":null}}}},
 {"data":{"name":"dots"},"mark":{"type":"point","opacity":0},"encoding":{"x":{"field":"x","type":"quantitative","scale":{"domain":[0,2000],"nice":false,"zero":false},"axis":{"orient":"top","values":[500,1000,1500],"tickSize":34,"offset":-34,"labels":false,"title":null}},"y":{"field":"y","type":"quantitative","scale":{"domain":[0,1000],"nice":false,"zero":false},"axis":{"orient":"right","values":[200,400,600,800],"tickSize":34,"offset":-34,"labels":false,"title":null}}}}
],"resolve":{"axis":{"x":"independent","y":"independent"}}},
{"width":510,"height":510,"layer":[
 {"encoding":{"x":{"field":"x","type":"quantitative","scale":{"domain":[0,2000],"nice":false,"zero":false},"axis":null},"y":{"field":"y","type":"quantitative","scale":{"domain":[0,1000],"nice":false,"zero":false},"axis":{"orient":"left","values":[0,200,400,600,800],"ticks":false,"labelPadding":18,"labelOffset":-4,"title":null}}},
  "layer":[
  {"data":{"name":"lines"},"transform":[{"filter":"datum.p=='TR'"}],"mark":{"type":"line","strokeWidth":1.8,"clip":true},"encoding":{"detail":{"field":"id"},"order":{"field":"o","type":"quantitative"},"stroke":{"field":"s","type":"nominal","legend":null,"scale":{"domain":["r1","r0","bA","bB","bC","gs","gd","k1","k0","kd","m"],"range":["#ee1c25","#ee1c25","#2e3192","#2e3192","#2e3192","#00a651","#00a651","#000000","#000000","#000000","#ec008c"]}},"strokeDash":{"field":"s","type":"nominal","legend":null,"scale":{"domain":["r1","r0","bA","bB","bC","gs","gd","k1","k0","kd","m"],"range":[[12,4,2,4],[18,5],[8,4,2,4],[14,4],[12,4,3,4],[1,0],[4,3],[12,4,2,4],[18,5],[3,3],[12,4,3,4]]}}}},
  {"data":{"name":"brick"},"transform":[{"filter":"datum.p=='TR'"}],"mark":{"type":"area","color":"#8a8a8a","clip":true},"encoding":{"y2":{"datum":0}}},
  {"data":{"name":"hatch"},"transform":[{"filter":"datum.p=='TR'"}],"mark":{"type":"area","color":"#aaaaaa","clip":true},"encoding":{"y2":{"field":"y2"}}},
  {"data":{"name":"strips"},"transform":[{"filter":"datum.p=='TR'"}],"mark":{"type":"area","orient":"horizontal","color":"#8a8a8a","clip":true},"encoding":{"x2":{"datum":0}}},
  {"data":{"name":"labels"},"transform":[{"filter":"datum.p=='TR' && datum.f=='i'"}],"mark":{"type":"text","font":"Liberation Sans","fontSize":32,"fontStyle":"italic","baseline":"middle","align":"center"},"encoding":{"text":{"field":"t"},"fill":{"field":"c","type":"nominal","legend":null,"scale":{"domain":["red","blue","green","black"],"range":["#ee1c25","#2e3192","#00a651","#000000"]}}}},
  {"data":{"name":"labels"},"transform":[{"filter":"datum.p=='TR' && datum.f=='u'"}],"mark":{"type":"text","font":"Liberation Sans","fontSize":32,"baseline":"middle","align":"center"},"encoding":{"text":{"field":"t"},"fill":{"field":"c","type":"nominal","legend":null,"scale":{"domain":["red","blue","green","black"],"range":["#ee1c25","#2e3192","#00a651","#000000"]}}}},
  {"data":{"name":"labels"},"transform":[{"filter":"datum.p=='TR' && datum.f=='t'"}],"mark":{"type":"text","font":"Liberation Sans","fontSize":34,"baseline":"middle","align":"center","color":"#000"},"encoding":{"text":{"field":"t"}}}
 ]},
 {"data":{"name":"dots"},"mark":{"type":"point","opacity":0},"encoding":{"x":{"field":"x","type":"quantitative","scale":{"domain":[0,2000],"nice":false,"zero":false},"axis":{"orient":"top","values":[100,200,300,400,600,700,800,900,1100,1200,1300,1400,1600,1700,1800,1900],"tickSize":12,"offset":-12,"labels":false,"title":null}},"y":{"field":"y","type":"quantitative","scale":{"domain":[0,1000],"nice":false,"zero":false},"axis":{"orient":"right","values":[40,80,120,160,240,280,320,360,440,480,520,560,640,680,720,760,840,880,920,960],"tickSize":12,"offset":-12,"labels":false,"title":null}}}},
 {"data":{"name":"dots"},"mark":{"type":"point","opacity":0},"encoding":{"x":{"field":"x","type":"quantitative","scale":{"domain":[0,2000],"nice":false,"zero":false},"axis":{"orient":"top","values":[500,1000,1500],"tickSize":34,"offset":-34,"labels":false,"title":null}},"y":{"field":"y","type":"quantitative","scale":{"domain":[0,1000],"nice":false,"zero":false},"axis":{"orient":"right","values":[200,400,600,800],"tickSize":34,"offset":-34,"labels":false,"title":null}}}}
],"resolve":{"axis":{"x":"independent","y":"independent"}}},
{"width":510,"height":510,"layer":[
 {"encoding":{"x":{"field":"x","type":"quantitative","scale":{"domain":[0,2000],"nice":false,"zero":false},"axis":{"orient":"bottom","values":[0,500,1000,1500,2000],"format":"d","ticks":false,"labelPadding":21,"title":"m₀  (GeV)","titlePadding":14}},"y":{"field":"y","type":"quantitative","scale":{"domain":[0,1000],"nice":false,"zero":false},"axis":{"orient":"left","values":[0,200,400,600,800],"ticks":false,"labelPadding":15,"labelOffset":-4,"title":"m₁/₂  (GeV)","titlePadding":26}}},
  "layer":[
  {"data":{"name":"lines"},"transform":[{"filter":"datum.p=='BL'"}],"mark":{"type":"line","strokeWidth":1.8,"clip":true},"encoding":{"detail":{"field":"id"},"order":{"field":"o","type":"quantitative"},"stroke":{"field":"s","type":"nominal","legend":null,"scale":{"domain":["r1","r0","bA","bB","bC","gs","gd","k1","k0","kd","m"],"range":["#ee1c25","#ee1c25","#2e3192","#2e3192","#2e3192","#00a651","#00a651","#000000","#000000","#000000","#ec008c"]}},"strokeDash":{"field":"s","type":"nominal","legend":null,"scale":{"domain":["r1","r0","bA","bB","bC","gs","gd","k1","k0","kd","m"],"range":[[12,4,2,4],[18,5],[8,4,2,4],[14,4],[12,4,3,4],[1,0],[4,3],[12,4,2,4],[18,5],[3,3],[12,4,3,4]]}}}},
  {"data":{"name":"hatch"},"transform":[{"filter":"datum.p=='BL'"}],"mark":{"type":"area","color":"#aaaaaa","clip":true},"encoding":{"y2":{"field":"y2"}}},
  {"data":{"name":"strips"},"transform":[{"filter":"datum.p=='BL'"}],"mark":{"type":"area","orient":"horizontal","color":"#8a8a8a","clip":true},"encoding":{"x2":{"datum":0}}},
  {"data":{"name":"dots"},"transform":[{"filter":"datum.p=='BL'"}],"mark":{"type":"circle","size":480,"color":"#ed1c24","opacity":1}},
  {"data":{"name":"labels"},"transform":[{"filter":"datum.p=='BL' && datum.f=='i'"}],"mark":{"type":"text","font":"Liberation Sans","fontSize":32,"fontStyle":"italic","baseline":"middle","align":"center"},"encoding":{"text":{"field":"t"},"fill":{"field":"c","type":"nominal","legend":null,"scale":{"domain":["red","blue","green","black"],"range":["#ee1c25","#2e3192","#00a651","#000000"]}}}},
  {"data":{"name":"labels"},"transform":[{"filter":"datum.p=='BL' && datum.f=='u'"}],"mark":{"type":"text","font":"Liberation Sans","fontSize":32,"baseline":"middle","align":"center"},"encoding":{"text":{"field":"t"},"fill":{"field":"c","type":"nominal","legend":null,"scale":{"domain":["red","blue","green","black"],"range":["#ee1c25","#2e3192","#00a651","#000000"]}}}},
  {"data":{"name":"labels"},"transform":[{"filter":"datum.p=='BL' && datum.f=='t'"}],"mark":{"type":"text","font":"Liberation Sans","fontSize":34,"baseline":"middle","align":"center","color":"#000"},"encoding":{"text":{"field":"t"}}},
  {"data":{"name":"labels"},"transform":[{"filter":"datum.p=='BL' && datum.f=='n'"}],"mark":{"type":"text","font":"Liberation Sans","fontSize":44,"fontWeight":"bold","baseline":"middle","align":"center","color":"#f8a01c"},"encoding":{"text":{"field":"t"}}}
 ]},
 {"data":{"name":"dots"},"mark":{"type":"point","opacity":0},"encoding":{"x":{"field":"x","type":"quantitative","scale":{"domain":[0,2000],"nice":false,"zero":false},"axis":{"orient":"top","values":[100,200,300,400,600,700,800,900,1100,1200,1300,1400,1600,1700,1800,1900],"tickSize":12,"offset":-12,"labels":false,"title":null}},"y":{"field":"y","type":"quantitative","scale":{"domain":[0,1000],"nice":false,"zero":false},"axis":{"orient":"right","values":[40,80,120,160,240,280,320,360,440,480,520,560,640,680,720,760,840,880,920,960],"tickSize":12,"offset":-12,"labels":false,"title":null}}}},
 {"data":{"name":"dots"},"mark":{"type":"point","opacity":0},"encoding":{"x":{"field":"x","type":"quantitative","scale":{"domain":[0,2000],"nice":false,"zero":false},"axis":{"orient":"top","values":[500,1000,1500],"tickSize":34,"offset":-34,"labels":false,"title":null}},"y":{"field":"y","type":"quantitative","scale":{"domain":[0,1000],"nice":false,"zero":false},"axis":{"orient":"right","values":[200,400,600,800],"tickSize":34,"offset":-34,"labels":false,"title":null}}}}
],"resolve":{"axis":{"x":"independent","y":"independent"}}},
{"width":510,"height":510,"layer":[
 {"encoding":{"x":{"field":"x","type":"quantitative","scale":{"domain":[0,2000],"nice":false,"zero":false},"axis":{"orient":"bottom","values":[0,500,1000,1500,2000],"format":"d","ticks":false,"labelPadding":21,"title":"m₀  (GeV)","titlePadding":14}},"y":{"field":"y","type":"quantitative","scale":{"domain":[0,1000],"nice":false,"zero":false},"axis":{"orient":"left","values":[0,200,400,600,800],"ticks":false,"labelPadding":18,"labelOffset":-4,"title":null}}},
  "layer":[
  {"data":{"name":"lines"},"transform":[{"filter":"datum.p=='BR'"}],"mark":{"type":"line","strokeWidth":1.8,"clip":true},"encoding":{"detail":{"field":"id"},"order":{"field":"o","type":"quantitative"},"stroke":{"field":"s","type":"nominal","legend":null,"scale":{"domain":["r1","r0","bA","bB","bC","gs","gd","k1","k0","kd","m"],"range":["#ee1c25","#ee1c25","#2e3192","#2e3192","#2e3192","#00a651","#00a651","#000000","#000000","#000000","#ec008c"]}},"strokeDash":{"field":"s","type":"nominal","legend":null,"scale":{"domain":["r1","r0","bA","bB","bC","gs","gd","k1","k0","kd","m"],"range":[[12,4,2,4],[18,5],[8,4,2,4],[14,4],[12,4,3,4],[1,0],[4,3],[12,4,2,4],[18,5],[3,3],[12,4,3,4]]}}}},
  {"data":{"name":"brick"},"transform":[{"filter":"datum.p=='BR'"}],"mark":{"type":"area","color":"#8a8a8a","clip":true},"encoding":{"y2":{"datum":0}}},
  {"data":{"name":"hatch"},"transform":[{"filter":"datum.p=='BR'"}],"mark":{"type":"area","color":"#aaaaaa","clip":true},"encoding":{"y2":{"field":"y2"}}},
  {"data":{"name":"strips"},"transform":[{"filter":"datum.p=='BR'"}],"mark":{"type":"area","orient":"horizontal","color":"#8a8a8a","clip":true},"encoding":{"x2":{"datum":0}}},
  {"data":{"name":"dots"},"transform":[{"filter":"datum.p=='BR'"}],"mark":{"type":"circle","size":480,"color":"#ed1c24","opacity":1}},
  {"data":{"name":"labels"},"transform":[{"filter":"datum.p=='BR' && datum.f=='i'"}],"mark":{"type":"text","font":"Liberation Sans","fontSize":32,"fontStyle":"italic","baseline":"middle","align":"center"},"encoding":{"text":{"field":"t"},"fill":{"field":"c","type":"nominal","legend":null,"scale":{"domain":["red","blue","green","black"],"range":["#ee1c25","#2e3192","#00a651","#000000"]}}}},
  {"data":{"name":"labels"},"transform":[{"filter":"datum.p=='BR' && datum.f=='u'"}],"mark":{"type":"text","font":"Liberation Sans","fontSize":32,"baseline":"middle","align":"center"},"encoding":{"text":{"field":"t"},"fill":{"field":"c","type":"nominal","legend":null,"scale":{"domain":["red","blue","green","black"],"range":["#ee1c25","#2e3192","#00a651","#000000"]}}}},
  {"data":{"name":"labels"},"transform":[{"filter":"datum.p=='BR' && datum.f=='t'"}],"mark":{"type":"text","font":"Liberation Sans","fontSize":34,"baseline":"middle","align":"center","color":"#000"},"encoding":{"text":{"field":"t"}}},
  {"data":{"name":"labels"},"transform":[{"filter":"datum.p=='BR' && datum.f=='n'"}],"mark":{"type":"text","font":"Liberation Sans","fontSize":44,"fontWeight":"bold","baseline":"middle","align":"center","color":"#f8a01c"},"encoding":{"text":{"field":"t"}}}
 ]},
 {"data":{"name":"dots"},"mark":{"type":"point","opacity":0},"encoding":{"x":{"field":"x","type":"quantitative","scale":{"domain":[0,2000],"nice":false,"zero":false},"axis":{"orient":"top","values":[100,200,300,400,600,700,800,900,1100,1200,1300,1400,1600,1700,1800,1900],"tickSize":12,"offset":-12,"labels":false,"title":null}},"y":{"field":"y","type":"quantitative","scale":{"domain":[0,1000],"nice":false,"zero":false},"axis":{"orient":"right","values":[40,80,120,160,240,280,320,360,440,480,520,560,640,680,720,760,840,880,920,960],"tickSize":12,"offset":-12,"labels":false,"title":null}}}},
 {"data":{"name":"dots"},"mark":{"type":"point","opacity":0},"encoding":{"x":{"field":"x","type":"quantitative","scale":{"domain":[0,2000],"nice":false,"zero":false},"axis":{"orient":"top","values":[500,1000,1500],"tickSize":34,"offset":-34,"labels":false,"title":null}},"y":{"field":"y","type":"quantitative","scale":{"domain":[0,1000],"nice":false,"zero":false},"axis":{"orient":"right","values":[200,400,600,800],"tickSize":34,"offset":-34,"labels":false,"title":null}}}}
],"resolve":{"axis":{"x":"independent","y":"independent"}}}
],
"columns":2,
"spacing":{"row":12,"column":139},
"bounds":"flush"
}
